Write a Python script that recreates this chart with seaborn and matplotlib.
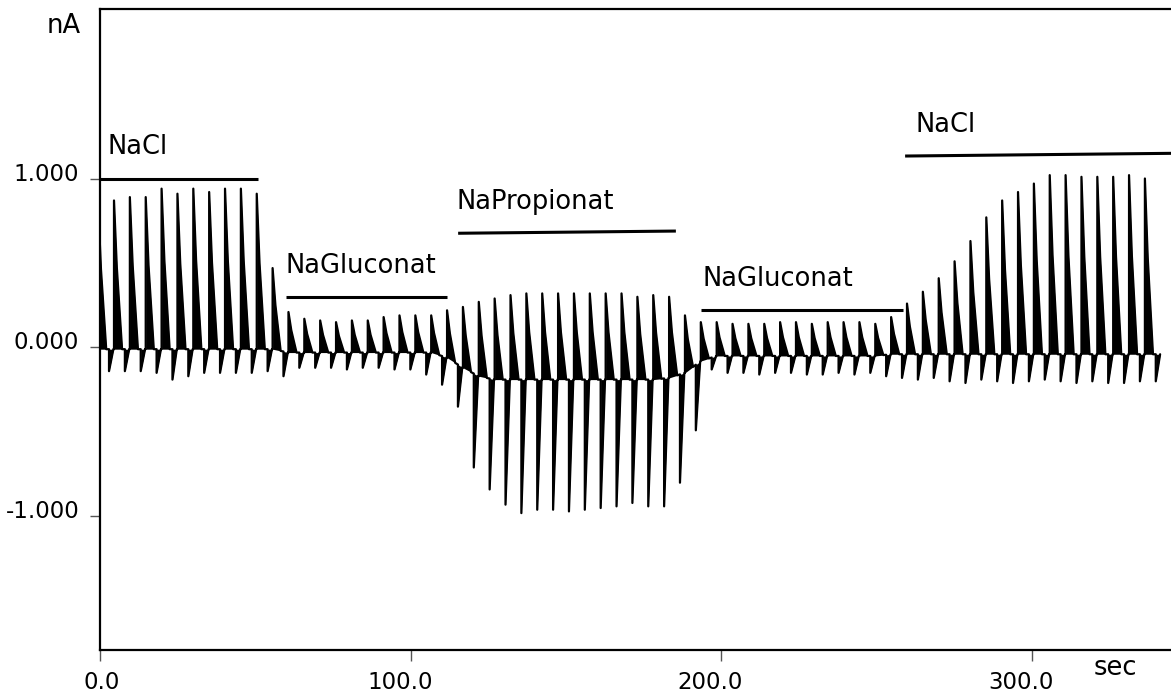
import numpy as np
import matplotlib.pyplot as plt
import matplotlib.transforms as mtransforms
import seaborn as sns

# stimulation: one pulse every ~5.1 s, first one just before t = 0
period = 5.106
first_pulse = -0.6

# positive peak of each pulse (nA)
peaks = [0.85,
         0.87, 0.89, 0.89, 0.94, 0.91, 0.94, 0.92, 0.94, 0.94, 0.91, 0.47,
         0.21, 0.17, 0.16, 0.15, 0.16, 0.16, 0.18, 0.19, 0.19, 0.19,
         0.22, 0.24, 0.27, 0.29, 0.31, 0.32, 0.32, 0.32, 0.32, 0.32, 0.32, 0.32,
         0.30, 0.31, 0.30, 0.19, 0.15,
         0.15, 0.14, 0.14, 0.14, 0.15, 0.15, 0.14, 0.15, 0.15, 0.15, 0.14,
         0.18, 0.26, 0.33, 0.41, 0.51, 0.63, 0.77, 0.87, 0.92, 0.97, 1.02, 1.02,
         1.01, 1.01, 1.01, 1.02, 1.00, 0.99]

# negative dip following each pulse (nA)
troughs = [-0.14, -0.14, -0.14, -0.15, -0.19, -0.17, -0.15, -0.15, -0.15, -0.15, -0.14, -0.17,
           -0.12, -0.12, -0.12, -0.13, -0.12, -0.12, -0.13, -0.13, -0.16,
           -0.22, -0.35, -0.71, -0.84, -0.93, -0.98, -0.96, -0.96, -0.97, -0.96, -0.95, -0.94,
           -0.92, -0.94, -0.94, -0.80, -0.49,
           -0.13, -0.15, -0.15, -0.16, -0.15, -0.15, -0.16, -0.16, -0.15, -0.16, -0.15,
           -0.17, -0.18, -0.19, -0.18, -0.20, -0.21, -0.19, -0.20, -0.21, -0.20, -0.19, -0.20,
           -0.21, -0.20, -0.21, -0.21, -0.20, -0.20]

# holding current at each pulse (nA)
baseline = [-0.01,
            -0.01, -0.01, -0.01, -0.01, -0.01, -0.01, -0.01, -0.01, -0.01, -0.01, -0.01,
            -0.03, -0.03, -0.03, -0.03, -0.03, -0.03, -0.03, -0.03, -0.03, -0.03,
            -0.06, -0.12, -0.17, -0.19,
            -0.19, -0.19, -0.19, -0.19, -0.19, -0.19, -0.19, -0.19, -0.19, -0.19,
            -0.18, -0.15, -0.08, -0.05,
            -0.05, -0.05, -0.05, -0.05, -0.05, -0.05, -0.05, -0.05, -0.05, -0.05,
            -0.04, -0.04, -0.04, -0.04, -0.04, -0.04, -0.04, -0.04, -0.04, -0.04, -0.04, -0.04,
            -0.04, -0.04, -0.04, -0.04, -0.04, -0.04]

# bath solutions
solutions = ["NaCl", "NaGluconat", "NaPropionat", "NaGluconat", "NaCl"]
sol_start = [0.0, 59.9, 115.3, 193.5, 259.2]
sol_end = [50.9, 111.7, 185.4, 258.5, 345.0]
bar_y_start = [1.0, 0.30, 0.676, 0.222, 1.133]
bar_y_end = [1.0, 0.30, 0.689, 0.222, 1.149]

pulse_t = first_pulse + period * np.arange(len(peaks))

# shape of one sweep: jump up, decay back, later a short negative dip
decay_len = 2.6
dip_delay = 3.5
dip_len = 1.4
decay_pos = np.array([0.0, 0.35, 1.0])
decay_frac = np.array([1.0, 0.55, 0.0])

t_all, y_all = [], []
for tp, pk, tr in zip(pulse_t, peaks, troughs):
    b = np.interp(tp, pulse_t, baseline)
    t_all.append(tp)
    y_all.append(b)
    for s, f in zip(decay_pos, decay_frac):
        tt = tp + s * decay_len
        bb = np.interp(tt, pulse_t, baseline)
        t_all.append(tt)
        y_all.append(bb + (pk - b) * f)
    tn = tp + dip_delay
    bn = np.interp(tn, pulse_t, baseline)
    t_all += [tn, tn, tn + dip_len]
    y_all += [bn, tr, np.interp(tn + dip_len, pulse_t, baseline)]

t_all = np.array(t_all)
y_all = np.array(y_all)
b_all = np.interp(t_all, pulse_t, baseline)

sns.set_style("ticks")
plt.rcParams['font.family'] = ['DejaVu Sans']
plt.rcParams['text.color'] = 'black'
fs = 16.5
fs_label = 18.5

fig = plt.figure(figsize=(11.71, 6.93), dpi=100)
ax = fig.add_axes([100 / 1171, 43 / 693, 1071 / 1171, 641 / 693])

ax.fill_between(t_all, y_all, b_all, color="black", lw=0)
sns.lineplot(x=t_all, y=y_all, sort=False, estimator=None, color="black",
             lw=1.6, ax=ax)

label_dx = [8, -1, -2, 1, 10]
for name, x0, x1, y0, y1, dx in zip(solutions, sol_start, sol_end,
                                    bar_y_start, bar_y_end, label_dx):
    ax.plot([x0, x1], [y0, y1], color="black", lw=2.2, solid_capstyle="butt")
    ax.annotate(name, xy=(x0, y0), xytext=(dx * 0.72, 22.5),
                textcoords="offset points", ha="left", va="center",
                fontsize=fs_label, color="black")

ax.set_xlim(0, 344.8)
ax.set_ylim(-1.79, 2.003)
ax.set_xticks([0, 100, 200, 300])
ax.set_xticklabels(["0.0", "100.0", "200.0", "300.0"])
ax.set_yticks([-1, 0, 1])
ax.set_yticklabels(["-1.000", "0.000", "1.000"])
ax.set_xlabel("")
ax.set_ylabel("")

for side in ["left", "bottom", "top"]:
    ax.spines[side].set_linewidth(1.6)
    ax.spines[side].set_color("black")
ax.spines["right"].set_visible(False)

ax.tick_params(axis="x", direction="out", length=8, width=1, color="#555555",
               pad=7, labelsize=fs, labelcolor="black")
ax.tick_params(axis="y", direction="out", length=7, width=1, color="#555555",
               pad=8, labelsize=fs, labelcolor="black")

for lab, dx in zip(ax.get_xticklabels(), [2, -10, -11, -11]):
    lab.set_transform(lab.get_transform() +
                      mtransforms.ScaledTranslation(dx / 100, 0, fig.dpi_scale_trans))
for lab in ax.get_yticklabels():
    lab.set_transform(lab.get_transform() +
                      mtransforms.ScaledTranslation(0, 7 / 100, fig.dpi_scale_trans))

fig.text(64 / 1171, 1 - 26 / 693, "nA", ha="center", va="center",
         fontsize=fs_label, color="black")
fig.text(1115 / 1171, 1 - 668 / 693, "sec", ha="center", va="center",
         fontsize=fs_label, color="black")

fig.savefig("out.png", dpi=100)
